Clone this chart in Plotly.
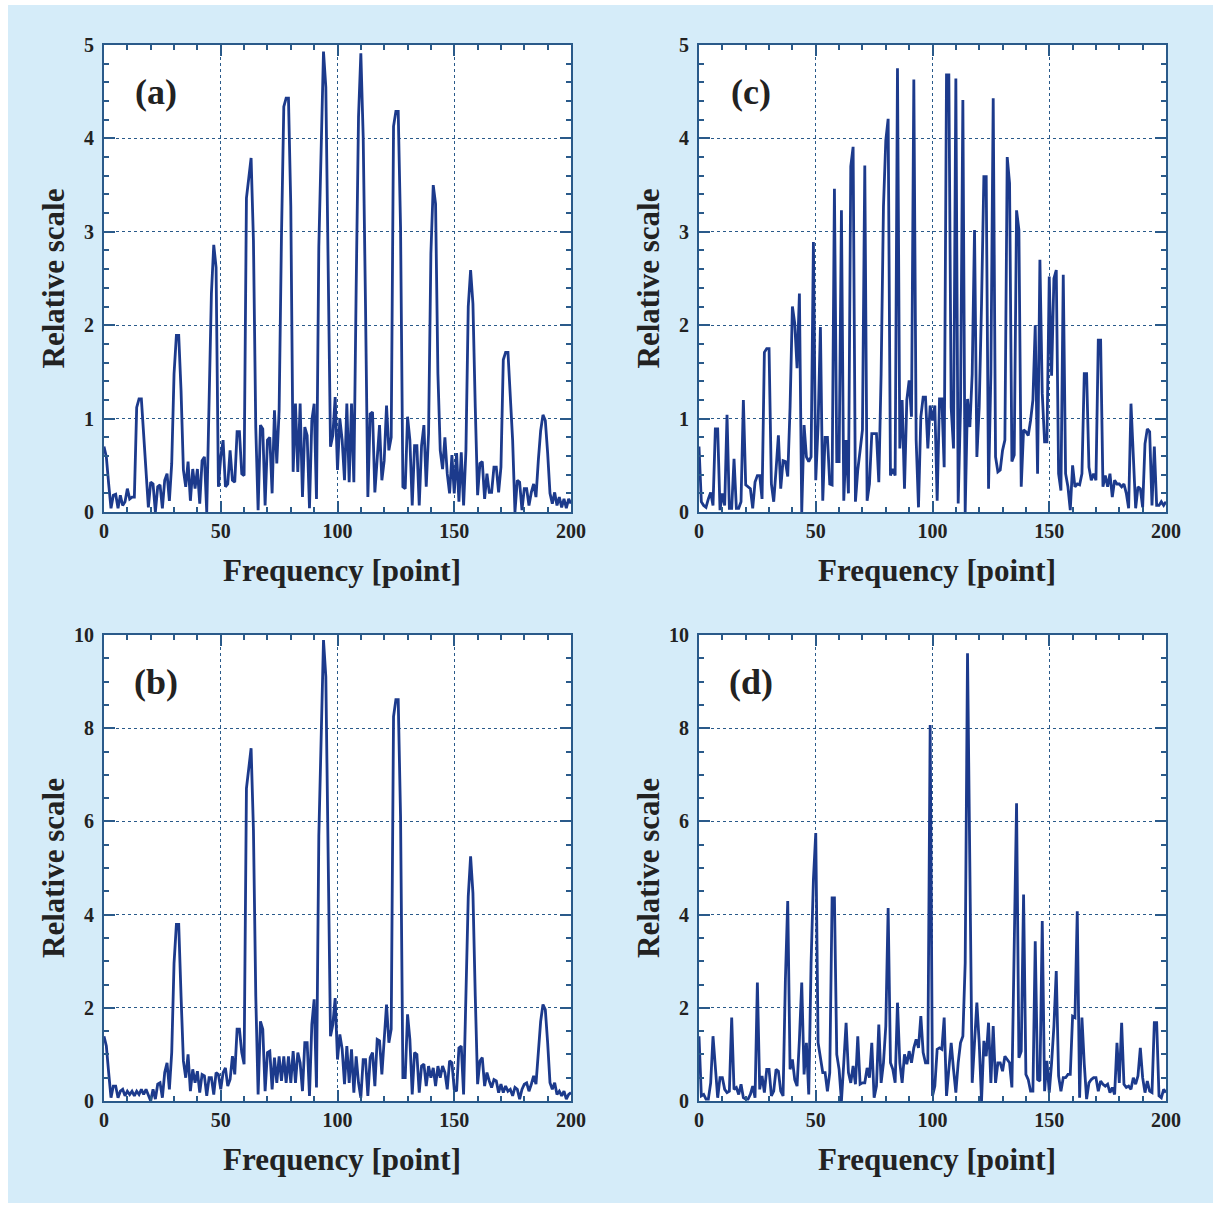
import plotly.graph_objects as go

W, H = 1219, 1207

freq = list(range(0, 201))

panel_a = [0.70,0.59,0.30,0.04,0.18,0.19,0.04,0.18,0.07,0.11,
0.25,0.14,0.16,0.16,1.12,1.21,1.21,0.84,0.52,0.05,
0.32,0.30,0.00,0.27,0.29,0.04,0.34,0.41,0.12,0.52,
1.48,1.89,1.89,1.30,0.45,0.27,0.54,0.12,0.46,0.25,
0.46,0.09,0.55,0.59,0.00,1.12,2.34,2.86,2.62,0.27,
0.59,0.77,0.27,0.30,0.66,0.34,0.32,0.86,0.86,0.41,
0.39,3.36,3.55,3.79,2.91,0.90,0.02,0.93,0.89,0.07,
0.77,0.80,0.20,1.09,0.52,1.09,2.95,4.34,4.43,4.43,
3.27,0.43,1.16,0.43,1.16,0.16,0.91,0.82,0.04,0.98,
1.16,0.14,2.84,3.88,4.93,4.55,2.84,0.70,0.82,1.23,
0.45,1.00,0.77,0.34,1.16,0.32,1.16,0.32,2.41,4.23,
4.91,4.02,2.20,0.16,1.05,1.07,0.21,0.63,0.93,0.34,
0.55,1.14,0.66,0.80,4.13,4.29,4.29,3.05,0.27,0.25,
1.02,0.77,0.07,0.71,0.71,0.07,0.71,0.93,0.27,0.84,
2.77,3.50,3.30,1.48,0.66,0.46,0.80,0.41,0.20,0.61,
0.20,0.63,0.11,0.64,0.07,0.66,2.20,2.59,2.23,1.12,
0.18,0.52,0.54,0.14,0.41,0.21,0.21,0.48,0.48,0.21,
0.48,1.63,1.71,1.71,1.30,0.77,0.00,0.34,0.32,0.02,
0.25,0.25,0.07,0.21,0.30,0.16,0.55,0.87,1.04,0.98,
0.63,0.20,0.09,0.21,0.07,0.16,0.05,0.14,0.04,0.14,
0.09]

panel_b = [1.39,1.18,0.61,0.07,0.32,0.32,0.07,0.21,0.25,0.11,
0.21,0.14,0.21,0.11,0.21,0.14,0.25,0.14,0.25,0.14,
0.00,0.25,0.04,0.36,0.39,0.07,0.61,0.82,0.25,1.04,
2.96,3.79,3.79,2.25,0.86,0.50,1.00,0.21,0.68,0.39,
0.64,0.18,0.57,0.54,0.11,0.50,0.50,0.14,0.61,0.57,
0.25,0.61,0.71,0.32,0.46,0.96,0.57,1.54,1.54,1.04,
0.79,6.71,7.11,7.57,5.82,2.25,0.14,1.71,1.54,0.21,
1.04,1.07,0.25,0.93,0.39,0.96,0.43,0.96,0.39,0.96,
0.39,1.07,0.39,1.04,0.82,0.21,1.25,1.25,0.11,1.64,
2.18,0.29,5.68,7.75,9.89,9.11,5.68,1.39,1.64,2.21,
0.89,1.43,1.11,0.36,1.18,0.39,1.11,0.18,0.96,0.39,
0.07,0.89,0.89,0.11,0.93,1.04,0.32,1.32,1.29,0.57,
1.32,2.07,1.25,1.54,8.25,8.61,8.61,6.11,0.50,0.50,
1.86,1.32,0.14,1.04,1.00,0.18,0.75,0.79,0.32,0.75,
0.50,0.71,0.32,0.75,0.50,0.75,0.61,0.25,0.86,0.82,
0.25,0.21,1.14,1.18,0.14,2.25,4.39,5.25,4.46,2.25,
0.36,0.86,0.93,0.32,0.61,0.43,0.29,0.46,0.43,0.18,
0.36,0.18,0.32,0.21,0.25,0.11,0.29,0.25,0.04,0.25,
0.36,0.39,0.21,0.36,0.54,0.36,1.11,1.71,2.07,1.96,
1.25,0.39,0.25,0.39,0.14,0.21,0.11,0.21,0.04,0.14,
0.18]

panel_c = [0.70,0.11,0.07,0.05,0.14,0.21,0.07,0.89,0.89,0.02,
0.20,0.07,1.04,0.04,0.04,0.57,0.04,0.04,0.11,1.20,
0.29,0.27,0.25,0.04,0.32,0.39,0.39,0.14,1.71,1.75,
1.75,0.30,0.11,0.45,0.82,0.25,0.55,0.54,0.38,1.12,
2.20,2.02,1.54,2.34,0.00,0.93,0.59,0.54,0.59,2.89,
0.34,0.93,1.98,0.12,0.80,0.80,0.30,0.29,3.46,0.54,
0.54,3.23,0.12,0.77,0.20,3.70,3.91,0.11,0.45,0.66,
0.88,3.71,0.12,0.30,0.84,0.84,0.84,0.32,1.48,3.27,
3.98,4.21,0.39,0.46,0.39,4.75,0.68,1.20,0.25,1.20,
1.41,1.02,4.63,0.77,0.05,1.02,1.23,1.23,0.68,1.14,
0.98,1.14,0.12,1.21,1.21,0.48,4.68,4.68,1.12,0.68,
4.64,0.09,1.12,4.41,0.00,1.21,0.91,1.48,3.02,0.59,
1.12,2.23,3.59,3.59,0.25,1.48,4.43,0.59,0.43,
0.45,0.66,0.77,3.80,3.52,0.54,0.61,3.23,3.02,0.27,
0.88,0.86,0.82,0.98,1.20,2.00,0.41,2.70,1.27,0.75,
0.75,2.52,1.46,2.50,2.59,0.41,0.23,2.54,0.41,0.27,
0.02,0.50,0.27,0.30,0.29,0.41,1.48,1.48,0.48,0.34,
0.41,0.34,1.84,1.84,0.27,0.39,0.27,0.41,0.16,0.34,
0.30,0.30,0.27,0.30,0.20,0.04,1.16,0.57,0.04,
0.27,0.25,0.05,0.73,0.89,0.86,0.07,0.70,0.07,0.07,
0.11,0.07,0.11]

panel_d = [1.39,0.11,0.14,0.04,0.04,0.39,1.39,0.75,0.07,0.50,
0.50,0.25,0.18,0.21,1.79,0.25,0.29,0.14,0.36,0.07,
0.04,0.04,0.14,0.32,0.07,2.54,0.25,0.54,0.18,0.68,
0.68,0.11,0.21,0.68,0.64,0.21,0.11,2.61,4.29,0.68,
0.89,0.46,0.32,1.32,2.54,0.57,1.25,0.14,2.96,
4.75,5.75,1.25,0.89,0.61,0.61,0.21,0.61,4.36,
4.36,1.00,0.68,0.00,0.82,1.68,0.61,0.39,0.75,0.36,
1.39,0.36,0.39,0.39,0.71,0.50,1.25,0.07,0.32,1.64,
0.39,0.82,1.61,4.14,0.82,0.68,0.39,2.11,0.82,0.39,
1.00,0.79,1.07,0.82,1.14,1.32,1.14,1.82,1.04,0.82,
0.82,8.07,0.11,0.32,1.11,1.14,1.11,1.79,0.11,0.61,
1.25,0.68,0.18,0.82,1.25,1.39,2.96,9.61,5.11,0.39,
1.25,2.11,1.25,0.00,1.29,0.96,1.68,0.39,1.61,0.39,
0.82,0.82,0.64,0.96,0.89,0.82,0.29,2.96,6.39,0.93,
1.07,4.43,0.57,0.46,0.21,0.21,3.43,0.46,0.43,3.86,
0.21,0.86,0.18,0.82,1.61,2.79,0.54,0.21,0.50,0.50,
0.57,0.57,1.82,1.79,4.07,0.07,1.79,0.79,0.04,0.39,
0.46,0.50,0.50,0.21,0.43,0.36,0.32,0.36,0.18,0.29,
0.14,1.25,0.39,1.68,0.36,0.29,0.32,0.25,0.50,0.36,
0.54,1.14,0.50,0.18,0.43,0.21,0.18,1.68,1.68,0.11,
0.07,0.25,0.18]

panels = [
    # label, data, ymax, major, minor, x-range px, y-range px
    ("(a)", panel_a, 5, 1, 0.2, (104, 571), (45, 512)),
    ("(c)", panel_c, 5, 1, 0.2, (699, 1166), (45, 512)),
    ("(b)", panel_b, 10, 2, 0.5, (104, 571), (635, 1101)),
    ("(d)", panel_d, 10, 2, 0.5, (699, 1166), (635, 1101)),
]

AX = "#2a5a8a"
LINE = "#1c3a8c"
BG = "#d5ecf9"
SERIF = "Liberation Serif"
TXT = "#222222"


def px_rect(x0, y0, x1, y1, color, layer):
    return dict(type="rect", xref="paper", yref="paper",
                x0=x0 / W, x1=x1 / W, y0=1 - y1 / H, y1=1 - y0 / H,
                fillcolor=color, line=dict(width=0), layer=layer)


shapes = [
    px_rect(0, 0, W, 5, "white", "above"),
    px_rect(0, 1203, W, H, "white", "above"),
    px_rect(0, 0, 8, H, "white", "above"),
    px_rect(1213, 0, W, H, "white", "above"),
]
for p in panels:
    (px0, px1), (py0, py1) = p[5], p[6]
    shapes.append(px_rect(px0, py0, px1, py1, "white", "below"))

fig = go.Figure()
layout = dict(
    template="none",
    width=W, height=H,
    autosize=False,
    margin=dict(l=0, r=0, t=0, b=0, pad=0, autoexpand=False),
    paper_bgcolor=BG,
    plot_bgcolor="white",
    showlegend=False,
    shapes=shapes,
    annotations=[],
)

for i, (lab, data, ymax, major, minor, (px0, px1), (py0, py1)) in enumerate(panels):
    n = "" if i == 0 else str(i + 1)
    fig.add_trace(go.Scatter(x=freq[:len(data)], y=data, mode="lines",
                             line=dict(color=LINE, width=2.8),
                             xaxis="x" + n, yaxis="y" + n, hoverinfo="skip"))
    common = dict(
        automargin=False,
        showline=True, linecolor=AX, linewidth=2, mirror="ticks",
        ticks="inside", ticklen=11, tickwidth=2, tickcolor=AX,
        showgrid=True, gridcolor=AX, griddash="dot", gridwidth=1,
        zeroline=False,
        tickfont=dict(family=SERIF, size=20, color=TXT, weight="bold"),
    )
    layout["xaxis" + n] = dict(
        common, domain=[px0 / W, px1 / W], range=[0, 200],
        tick0=0, dtick=50, anchor="y" + n,
        minor=dict(dtick=10, ticks="inside", ticklen=5, tickwidth=2,
                   tickcolor=AX, showgrid=False),
    )
    layout["yaxis" + n] = dict(
        common, domain=[1 - py1 / H, 1 - py0 / H], range=[0, ymax],
        tick0=0, dtick=major, anchor="x" + n, ticklabelstandoff=4,
        minor=dict(dtick=minor, ticks="inside", ticklen=5, tickwidth=2,
                   tickcolor=AX, showgrid=False),
    )
    cx = (px0 + px1) / 2
    cy = (py0 + py1) / 2
    layout["annotations"] += [
        dict(text=lab, xref="paper", yref="paper", x=(px0 + 52) / W,
             y=1 - (py0 + 47) / H, showarrow=False,
             xanchor="center", yanchor="middle",
             font=dict(family=SERIF, size=36, color=TXT, weight="bold")),
        dict(text="Frequency [point]", xref="paper", yref="paper",
             x=(cx + 4) / W, y=1 - (py1 + 58) / H, showarrow=False,
             xanchor="center", yanchor="middle",
             font=dict(family=SERIF, size=31, color=TXT, weight="bold")),
        dict(text="Relative scale", xref="paper", yref="paper",
             x=(px0 - 51) / W, y=1 - cy / H, showarrow=False, textangle=-90,
             xanchor="center", yanchor="middle",
             font=dict(family=SERIF, size=31, color=TXT, weight="bold")),
    ]

fig.update_layout(**layout)
fig.write_html("out.html",
               post_script="document.body.style.margin='0';"
                           "document.body.style.overflow='hidden';")
